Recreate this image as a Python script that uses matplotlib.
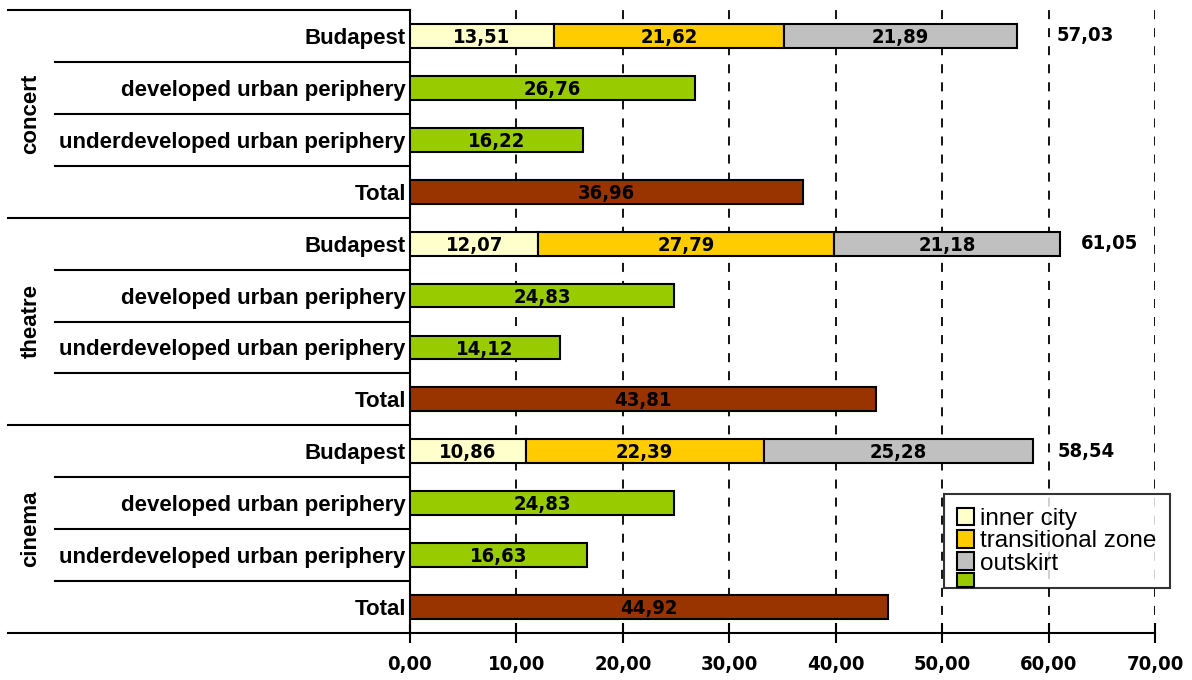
import matplotlib
matplotlib.use('Agg')
import matplotlib.pyplot as plt
from matplotlib.patches import Patch, Rectangle
from matplotlib.transforms import IdentityTransform
import numpy as np

######################### Data #########################
groups = ['concert', 'theatre', 'cinema']
rowNames = ['Budapest', 'developed urban periphery', 'underdeveloped urban periphery', 'Total']
innerCity = [13.51, 12.07, 10.86]
transZone = [21.62, 27.79, 22.39]
outskirt = [21.89, 21.18, 25.28]
budapestSum = [57.03, 61.05, 58.54]
developed = [26.76, 24.83, 24.83]
underdeveloped = [16.22, 14.12, 16.63]
total = [36.96, 43.81, 44.92]
xTicks = [0, 10, 20, 30, 40, 50, 60, 70]
legendNames = ['inner city', 'transitional zone', 'outskirt']

######################### Style #########################
cInner = '#FFFFCC'
cTrans = '#FFCC00'
cOut = '#C0C0C0'
cGreen = '#99CC00'
cTotal = '#993300'
plain = ['Liberation Sans', 'DejaVu Sans']
numFont = {'family': ['DejaVu Sans'], 'stretch': 'condensed', 'weight': 'bold', 'size': 14.5}

def fmt(v):
    return ('%.2f' % v).replace('.', ',')

fig = plt.figure(figsize=(11.92, 6.8), dpi=100)
ax = fig.add_axes([410/1192, 1 - 633/680, 745/1192, 623/680])

barH = 0.46
for g in range(len(groups)):
    base = g * 4
    yb = base
    ax.barh(yb, innerCity[g], height=barH, color=cInner, edgecolor='black', linewidth=1.5, zorder=3)
    ax.barh(yb, transZone[g], left=innerCity[g], height=barH, color=cTrans, edgecolor='black', linewidth=1.5, zorder=3)
    ax.barh(yb, outskirt[g], left=innerCity[g] + transZone[g], height=barH, color=cOut, edgecolor='black', linewidth=1.5, zorder=3)
    segs = [(0, innerCity[g]), (innerCity[g], transZone[g]), (innerCity[g] + transZone[g], outskirt[g])]
    for left, w in segs:
        ax.text(left + w / 2, yb + 0.03, fmt(w), ha='center', va='center', fontdict=numFont, zorder=4)
    ax.text(budapestSum[g] + 3.7 - 1.7 * (g == 1) - 1.4 * (g == 2), yb, fmt(budapestSum[g]), ha='left', va='center',
            fontdict=numFont)

    for k, (vals, col) in enumerate([(developed, cGreen), (underdeveloped, cGreen), (total, cTotal)]):
        y = base + 1 + k
        ax.barh(y, vals[g], height=barH, color=col, edgecolor='black', linewidth=1.5, zorder=3)
        ax.text(vals[g] / 2, y + 0.03, fmt(vals[g]), ha='center', va='center', fontdict=numFont, zorder=4)

ax.set_xlim(0, 70)
ax.set_ylim(11.5, -0.5)
ax.set_xticks(xTicks)
ax.set_xticklabels([fmt(t) for t in xTicks], fontdict=numFont)
ax.tick_params(axis='x', direction='inout', length=14, width=1.5, pad=9)
ax.set_yticks(range(12))
ax.set_yticklabels(rowNames * 3, fontsize=16, fontweight='bold', family=plain)
ax.tick_params(axis='y', length=0, pad=3)
ax.grid(axis='x', linestyle=(0, (5, 5)), color='black', linewidth=1.3, zorder=1)
for s in ['top', 'right']:
    ax.spines[s].set_visible(False)
ax.spines['left'].set_linewidth(1.5)
ax.spines['bottom'].set_linewidth(1.5)

# table-like lines on the left side
tr = ax.get_yaxis_transform()
xFull = (8 - 410) / 745
xInner = (55 - 410) / 745
for b in [-0.5, 3.5, 7.5, 11.5]:
    ax.plot([xFull, 0], [b, b], color='black', linewidth=1.5, transform=tr, clip_on=False)
for g in range(3):
    for k in range(3):
        b = g * 4 + k + 0.5
        ax.plot([xInner, 0], [b, b], color='black', linewidth=1.5, transform=tr, clip_on=False)
    ax.text((31 - 410) / 745, g * 4 + 1.5, groups[g], rotation=90, ha='center', va='center',
            fontsize=16, fontweight='bold', family=plain, transform=tr)

# legend: the green entry has no label and is cut by the frame
handles = [Patch(facecolor=c, edgecolor='black', linewidth=1.5) for c in [cInner, cTrans, cOut]]
leg = ax.legend(handles, legendNames, loc='lower right', bbox_to_anchor=(1.02, 0.072),
                prop={'family': plain, 'size': 17.5}, frameon=True, fancybox=False,
                handlelength=0.7, handleheight=0.75, handletextpad=0.25, labelspacing=0.0,
                borderpad=0.55, borderaxespad=0)
leg.get_frame().set_edgecolor('black')
leg.get_frame().set_linewidth(1.5)
leg.set_zorder(5)

fig.canvas.draw()
hb = leg.legend_handles[2].get_window_extent()
fb = leg.get_frame().get_window_extent()
greenBox = Rectangle((hb.x0, fb.y0 + 1), hb.width, hb.y0 - fb.y0 - 4, transform=IdentityTransform(),
                     facecolor=cGreen, edgecolor='black', linewidth=1.5)
fig.add_artist(greenBox)

fig.savefig('out.png', dpi=100)
